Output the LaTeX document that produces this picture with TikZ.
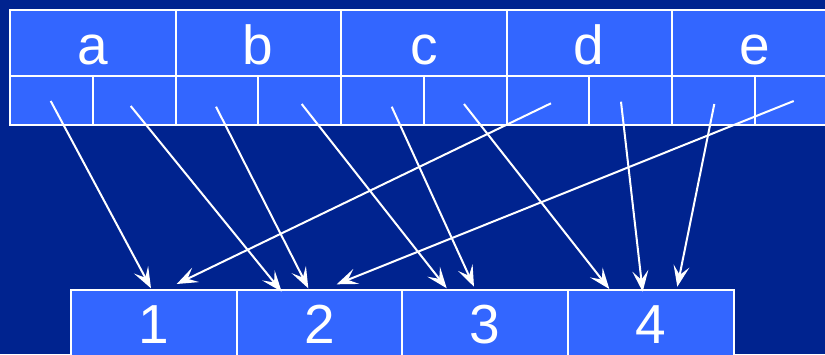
\documentclass[tikz,border=0pt]{standalone}
\usepackage{fontspec}
\setmainfont{Liberation Sans}
\usetikzlibrary{arrows.meta}
\definecolor{bgblue}{HTML}{00238F}
\definecolor{cellblue}{HTML}{3366FF}
\begin{document}
\begin{tikzpicture}[x=1pt,y=-1pt,
  cell/.style={draw=white, line width=2pt, fill=cellblue, rectangle, inner sep=0pt,
    minimum width=165.5pt, text=white, font=\fontsize{55}{55}\selectfont},
  topcell/.style={cell, minimum height=66pt, text height=42pt, text depth=0pt},
  subcell/.style={cell, minimum width=82.75pt, minimum height=49pt},
  botcell/.style={cell, minimum width=165.7pt, minimum height=80pt, text height=26pt, text depth=0pt},
  ptr/.style={draw=white, line width=2pt, -{Stealth[length=21pt,width=16pt,inset=9pt]}}]
\fill[bgblue] (0,0) rectangle (825,354);
\useasboundingbox (0,0) rectangle (825,354);
\begin{scope}
\clip (0,0) rectangle (825,354);
% top row
\node[topcell] (a) at (92.75,43) {a};
\node[topcell] (b) at (258.25,43) {b};
\node[topcell] (c) at (423.75,43) {c};
\node[topcell] (d) at (589.25,43) {d};
\node[topcell] (e) at (754.75,43) {e};
% sub cells
\node[subcell] (a1) at (51.375,100.5) {};
\node[subcell] (a2) at (134.125,100.5) {};
\node[subcell] (b1) at (216.875,100.5) {};
\node[subcell] (b2) at (299.625,100.5) {};
\node[subcell] (c1) at (382.375,100.5) {};
\node[subcell] (c2) at (465.125,100.5) {};
\node[subcell] (d1) at (547.875,100.5) {};
\node[subcell] (d2) at (630.625,100.5) {};
\node[subcell] (e1) at (713.375,100.5) {};
\node[subcell] (e2) at (796.125,100.5) {};
% bottom row
\node[botcell] (n1) at (153.85,330) {1};
\node[botcell] (n2) at (319.55,330) {2};
\node[botcell] (n3) at (485.25,330) {3};
\node[botcell] (n4) at (650.95,330) {4};
% arrow endpoints
\coordinate (s1) at (50.7,101);
\coordinate (s2) at (130.7,106);
\coordinate (s3) at (216,106.7);
\coordinate (s4) at (301.7,104);
\coordinate (s5) at (391.7,106.7);
\coordinate (s6) at (464,104);
\coordinate (s7) at (551,103.3);
\coordinate (s8) at (621,101.7);
\coordinate (s9) at (714.3,104);
\coordinate (s10) at (793.7,101);
\coordinate (t1) at (151,288.3);
\coordinate (t2) at (281.7,291.7);
\coordinate (t3) at (308.3,288.3);
\coordinate (t4) at (446.7,288.3);
\coordinate (t5) at (474,286.7);
\coordinate (t6) at (609.3,289);
\coordinate (t7) at (176.7,284);
\coordinate (t8) at (642.7,291.7);
\coordinate (t9) at (677.3,286.7);
\coordinate (t10) at (336.7,284.3);
\foreach \i in {1,...,10} {\draw[ptr] (s\i) -- (t\i);}
\end{scope}
\end{tikzpicture}
\end{document}
